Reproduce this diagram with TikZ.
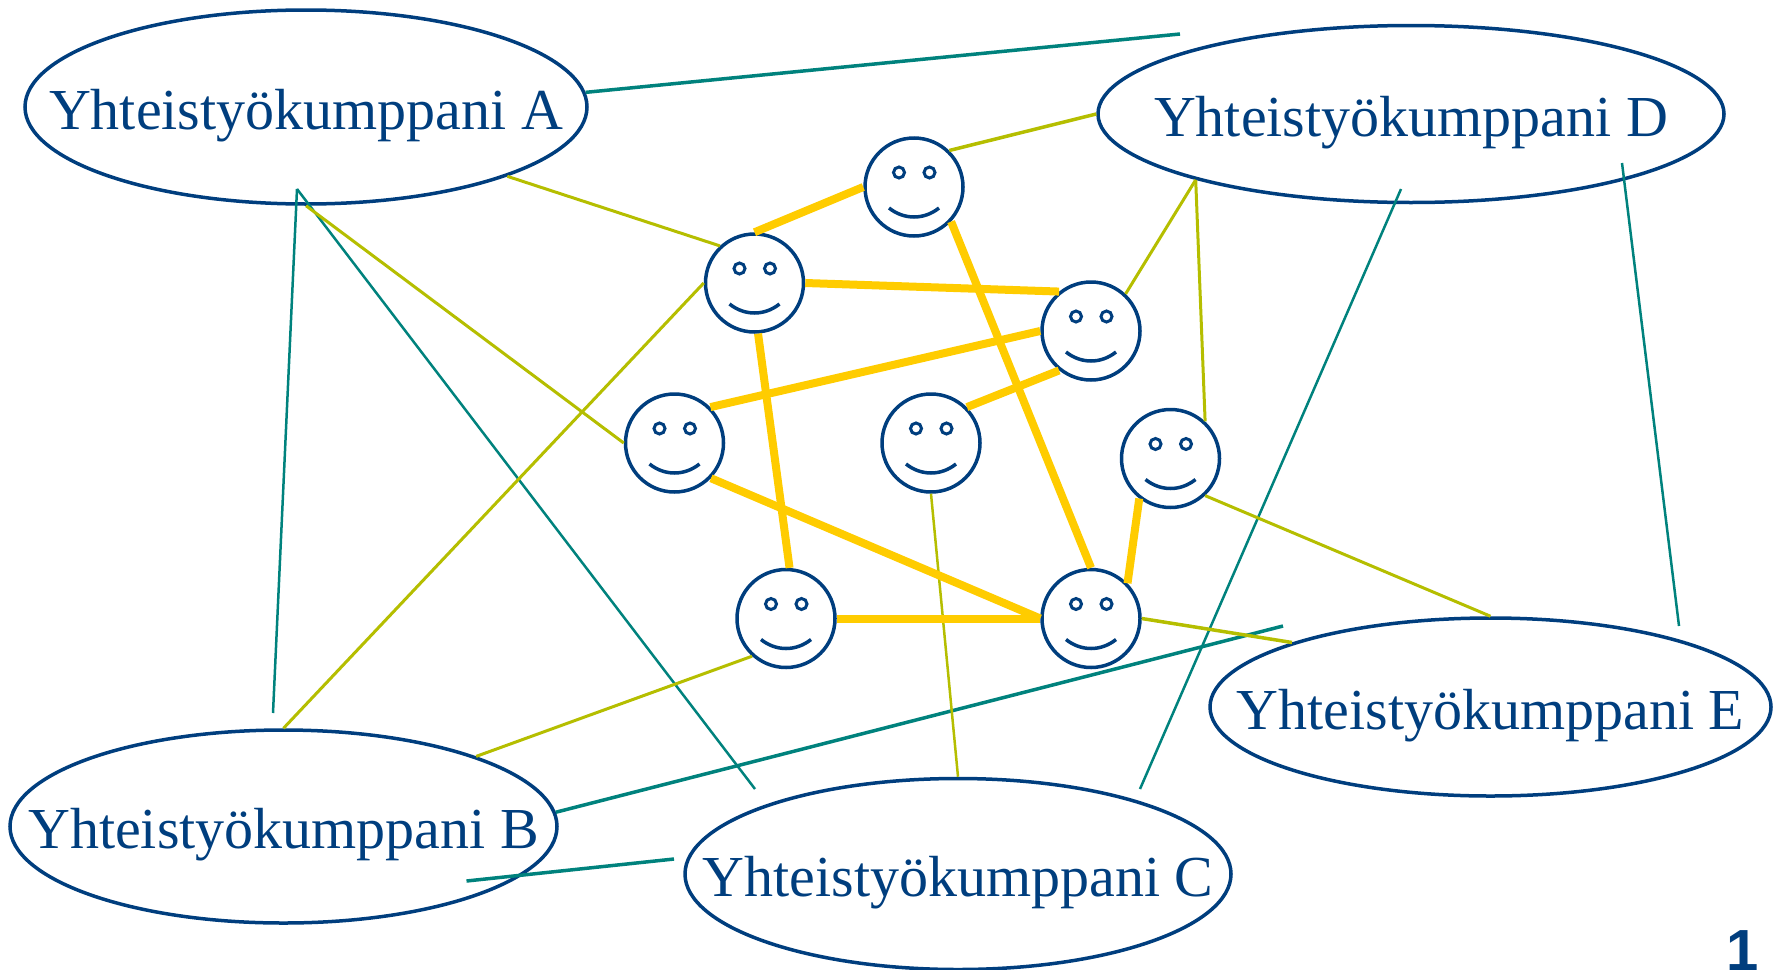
\documentclass[tikz,border=0pt]{standalone}
\usepackage{fontspec}
\setmainfont{Liberation Serif}
\setsansfont{Liberation Sans}
\usetikzlibrary{shapes.geometric}
\definecolor{partnerblue}{RGB}{0,62,126}
\definecolor{linkteal}{RGB}{0,130,125}
\definecolor{linkolive}{RGB}{181,190,0}
\definecolor{linkgold}{RGB}{255,204,0}

\begin{document}
\begin{tikzpicture}[x=1pt,y=-1pt,
    partner/.style={ellipse,draw=partnerblue,line width=3.5pt,inner sep=0pt},
    ptext/.style={text=partnerblue,inner sep=0pt,text height=44pt,text depth=0pt,
        font=\fontsize{58}{60}\selectfont},
    face/.style={circle,draw=partnerblue,line width=3.5pt,minimum size=98pt,inner sep=0pt,
        path picture={
            \draw[partnerblue,line width=3pt]
                ([xshift=-15pt,yshift=14.5pt]path picture bounding box.center) circle (5.5pt)
                ([xshift=15.5pt,yshift=14.5pt]path picture bounding box.center) circle (5.5pt);
            \draw[partnerblue,line width=3.5pt]
                ([xshift=-25pt,yshift=-21pt]path picture bounding box.center)
                .. controls +(15pt,-12pt) and +(-15pt,-12pt) ..
                ([xshift=25pt,yshift=-21pt]path picture bounding box.center);
        }},
    tthin/.style={draw=linkteal,line width=2.5pt},
    tthick/.style={draw=linkteal,line width=3.5pt},
    olink/.style={draw=linkolive,line width=3pt},
    glink/.style={draw=linkgold,line width=8pt}]

    \useasboundingbox (0,0) rectangle (1779,969);

    \node[partner,minimum width=562pt,minimum height=194pt] (pa) at (306,107) {};
    \node[partner,minimum width=626pt,minimum height=177pt] (pd) at (1411,114) {};
    \node[partner,minimum width=547pt,minimum height=193pt] (pb) at (283.5,826.5) {};
    \node[partner,minimum width=546pt,minimum height=191pt] (pc) at (958,874) {};
    \node[partner,minimum width=561pt,minimum height=178pt] (pe) at (1490.5,707) {};
    \node[ptext] (pa-t) at (pa) {Yhteistyökumppani A};
    \node[ptext] (pd-t) at (pd) {Yhteistyökumppani D};
    \node[ptext] (pb-t) at (pb) {Yhteistyökumppani B};
    \node[ptext] (pc-t) at (pc) {Yhteistyökumppani C};
    \node[ptext] (pe-t) at (pe) {Yhteistyökumppani E};

    \node[face] (f1) at (914,187) {};
    \node[face] (f2) at (754.5,283) {};
    \node[face] (f3) at (1091,331) {};
    \node[face] (f4) at (674.5,443) {};
    \node[face] (f5) at (931,443) {};
    \node[face] (f6) at (1170.5,458.5) {};
    \node[face] (f7) at (786,618.5) {};
    \node[face] (f8) at (1091,618.5) {};

    % vapaat päät
    \coordinate (ahub) at (297,189);
    \coordinate (t1) at (1180,34);
    \coordinate (tb) at (273,713);
    \coordinate (tc1) at (755,789);
    \coordinate (tc2) at (1140,789);
    \coordinate (td) at (1401,189);
    \coordinate (td2) at (1622,163);
    \coordinate (te1) at (1679,626);
    \coordinate (te2) at (1283,626);
    \coordinate (tb2) at (466.5,881);
    \coordinate (tc3) at (674,859);

    \draw[tthick] (pa.3.6) -- (t1);
    \draw[tthin] (ahub) -- (tb);
    \draw[tthin] (ahub) -- (tc1);
    \draw[tthin] (td) -- (tc2);
    \draw[tthin] (td2) -- (te1);
    \draw[tthick] (pb.3.6) -- (te2);
    \draw[tthick] (tb2) -- (tc3);

    \draw[olink,line width=3.5pt] (f1.46) -- (pd.west);
    \draw[olink] (pa.-19.5) -- (f2.133);
    \draw[olink] (pa.south) -- (f4.west);
    \draw[olink] (f2.west) -- (pb.north);
    \draw[olink] (pd.197) -- (f3.47);
    \draw[olink] (pd.197) -- (f6.47);
    \draw[olink] (f6.-47) -- (pe.north);
    \draw[olink,line width=3.5pt] (f8.east) -- (pe.162);
    \draw[olink] (f7.228) -- (pb.20);
    \draw[olink,line width=2.5pt] (f5.south) -- (pc.north);

    \draw[glink] (f2.north) -- (f1.west);
    \draw[glink] (f2.east) -- (f3.129);
    \draw[glink] (f1.-43) -- (f8.north);
    \draw[glink] (f3.west) -- (f4.45);
    \draw[glink] (f3.231) -- (f5.45);
    \draw[glink] (f2.-86) -- (f7.86);
    \draw[glink] (f4.-44) -- (f8.west);
    \draw[glink] (f7.east) -- (f8.west);
    \draw[glink] (f6.232) -- (f8.44);

    \node[anchor=north west,inner sep=0pt,text=partnerblue,
        font=\sffamily\bfseries\fontsize{58}{60}\selectfont] (page) at (1726,930) {1};
\end{tikzpicture}
\end{document}
